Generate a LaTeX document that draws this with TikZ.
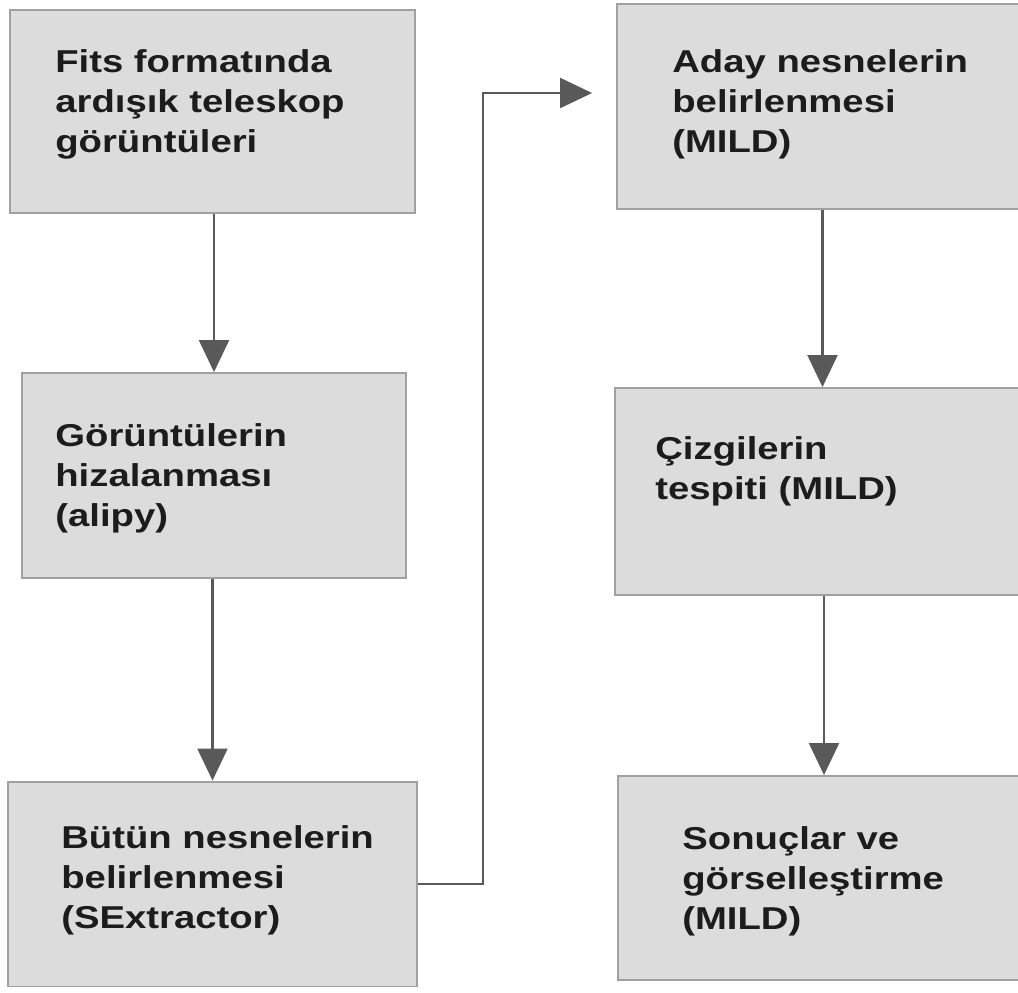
\documentclass[tikz,border=0pt]{standalone}
\usepackage{fontspec}
\setmainfont{Liberation Sans}[FakeStretch=1.21]
\usetikzlibrary{arrows.meta, positioning}
\definecolor{boxfill}{HTML}{DCDCDC}
\definecolor{boxline}{HTML}{A0A0A0}
\definecolor{arrowgray}{HTML}{595959}
\definecolor{textdark}{HTML}{1C1C1C}

\begin{document}
\begin{tikzpicture}[
    x=0.02cm, y=-0.02cm,
    box/.style={rectangle, draw=boxline, fill=boxfill, line width=1.1pt,
    inner sep=0pt},
    txt/.style={anchor=west, align=left, inner sep=0pt, text=textdark,
    font=\fontsize{18}{22.8}\selectfont\bfseries},
    arrow/.style={color=arrowgray, line width=1.2pt,
    -{Triangle[length=0.64cm, width=0.6cm]}} ]

    \useasboundingbox (0,0) rectangle (1018,992);

    % Boxes of the left column
    \node[box, minimum width=8.1cm, minimum height=4.06cm] (fits) at (212.5,111.5) {};
    \node[box, minimum width=7.68cm, minimum height=4.1cm] (align) at (214,475.5) {};
    \node[box, minimum width=8.18cm, minimum height=4.1cm] (all) at (212.5,884) {};

    % Boxes of the right column
    \node[box, minimum width=8.26cm, minimum height=4.1cm] (cand) at (823.5,106.5) {};
    \node[box, minimum width=8.3cm, minimum height=4.14cm] (lines) at (822.5,491.5) {};
    \node[box, minimum width=8.24cm, minimum height=4.08cm] (result) at (824,878) {};

    % Texts
    \node[txt] (fits_t) at (55,104) {Fits formatında\\ardışık teleskop\\görüntüleri};
    \node[txt] (align_t) at (55,478) {Görüntülerin\\hizalanması\\(alipy)};
    \node[txt] (all_t) at (61,880) {Bütün nesnelerin\\belirlenmesi\\(SExtractor)};
    \node[txt] (cand_t) at (672,104) {Aday nesnelerin\\belirlenmesi\\(MILD)};
    \node[txt] (lines_t) at (655,471) {Çizgilerin\\tespiti (MILD)};
    \node[txt] (result_t) at (682,881) {Sonuçlar ve\\görselleştirme\\(MILD)};

    % Arrows
    \draw[arrow] (align.north |- fits.south) -- (align.north);
    \draw[arrow] (all.north |- align.south) -- (all.north);
    \coordinate (turn) at (483,93);
    \draw[arrow, shorten >=0.48cm] (all.east) -| (turn) -- (turn -| cand.west);
    \draw[arrow] (lines.north |- cand.south) -- (lines.north);
    \draw[arrow] (result.north |- lines.south) -- (result.north);

\end{tikzpicture}
\end{document}
